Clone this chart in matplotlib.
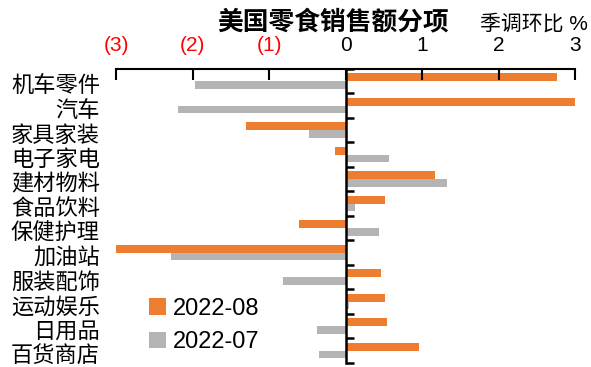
import matplotlib
matplotlib.use('Agg')
import matplotlib.pyplot as plt
import matplotlib.transforms as mtransforms
import numpy as np

plt.rcParams['font.family'] = ['Liberation Sans', 'Noto Sans CJK SC', 'DejaVu Sans']

# data
categories = ['机车零件', '汽车', '家具家装', '电子家电', '建材物料', '食品饮料',
              '保健护理', '加油站', '服装配饰', '运动娱乐', '日用品', '百货商店']
aug = [2.76, 3.02, -1.30, -0.14, 1.17, 0.51, -0.61, -3.0, 0.46, 0.51, 0.54, 0.96]
jul = [-1.97, -2.19, -0.48, 0.56, 1.32, 0.12, 0.43, -2.29, -0.82, 0.04, -0.38, -0.35]
xticks = [-3, -2, -1, 0, 1, 2, 3]
xticklabels = ['(3)', '(2)', '(1)', '0', '1', '2', '3']

orange = '#ED7D31'
gray = '#B4B4B4'

fig = plt.figure(figsize=(5.91, 3.67), dpi=100)
ax = fig.add_axes([0.197, 0.011, 0.776, 0.801])

y = np.arange(len(categories))
h = 0.33
ax.barh(y - 0.17, aug, height=h, color=orange, label='2022-08')
ax.barh(y + 0.16, jul, height=0.3, color=gray, label='2022-07')

ax.set_xlim(-3, 3)
ax.set_ylim(len(categories) - 0.5, -0.5)

# x axis on top
ax.xaxis.tick_top()
ax.set_xticks(xticks)
ax.set_xticklabels(xticklabels, fontsize=15)
for lbl, v in zip(ax.get_xticklabels(), xticks):
    if v < 0:
        lbl.set_color('red')
ax.tick_params(axis='x', direction='in', length=8, width=1.5, pad=10)

# zero line with category separators
ax.spines['right'].set_visible(False)
ax.spines['bottom'].set_visible(False)
ax.spines['left'].set_position(('data', 0))
ax.spines['top'].set_linewidth(1.5)
ax.spines['left'].set_linewidth(1.8)
ax.set_yticks([])
ax.set_yticks(np.arange(len(categories) + 1) - 0.5, minor=True)
ax.tick_params(axis='y', which='minor', direction='in', length=6, width=1.8)
ax.yaxis.set_tick_params(which='minor', labelleft=False)

trans = mtransforms.blended_transform_factory(ax.transAxes, ax.transData)
for i, c in enumerate(categories):
    ax.text(-0.036, i + 0.25, c, transform=trans, ha='right', va='center', fontsize=16)

fig.text(0.564, 0.94, '美国零食销售额分项', ha='center', va='center',
         fontsize=18.5, fontweight='bold')
fig.text(0.903, 0.935, '季调环比 %', ha='center', va='center', fontsize=15)

ax.legend(loc='lower left', bbox_to_anchor=(0.025, -0.04), frameon=False,
          fontsize=17, handlelength=0.7, handleheight=0.7, handletextpad=0.3,
          labelspacing=0.5)

plt.savefig('out.png', dpi=100)
